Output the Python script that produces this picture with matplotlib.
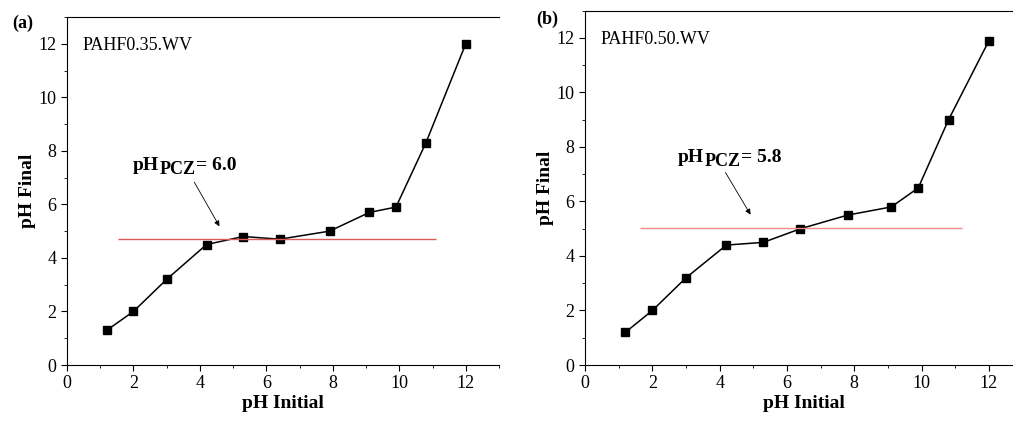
import matplotlib
matplotlib.use('agg')
import matplotlib.pyplot as plt
from matplotlib.ticker import MultipleLocator

plt.rcParams['font.family'] = ['Liberation Serif', 'DejaVu Serif']

# panel (a)
ph_init_a = [1.2, 2.0, 3.0, 4.2, 5.3, 6.4, 7.9, 9.1, 9.9, 10.8, 12.0]
ph_final_a = [1.3, 2.0, 3.2, 4.5, 4.8, 4.7, 5.0, 5.7, 5.9, 8.3, 12.0]
# panel (b)
ph_init_b = [1.2, 2.0, 3.0, 4.2, 5.3, 6.4, 7.8, 9.1, 9.9, 10.8, 12.0]
ph_final_b = [1.2, 2.0, 3.2, 4.4, 4.5, 5.0, 5.5, 5.8, 6.5, 9.0, 11.9]

ref_a = (1.53, 11.1, 4.70)
ref_b = (1.63, 11.2, 5.01)

fig = plt.figure(figsize=(10.13, 4.21), dpi=100)
ax_a = fig.add_axes([0.0661, 0.133, 0.4265, 0.8266])
ax_b = fig.add_axes([0.5775, 0.133, 0.432, 0.8416])


def draw_panel(ax, x, y, ref, line_col, name, pcz, txt_xy, arr_from, arr_to):
    ax.plot(x, y, '-s', color='black', lw=1.1, ms=5.5, mfc='black')
    ax.hlines(ref[2], ref[0], ref[1], color=line_col, lw=1)
    ax.set_xlim(0, 13)
    ax.set_ylim(0, 13)
    ax.xaxis.set_major_locator(MultipleLocator(2))
    ax.xaxis.set_minor_locator(MultipleLocator(1))
    ax.yaxis.set_major_locator(MultipleLocator(2))
    ax.yaxis.set_minor_locator(MultipleLocator(1))
    ax.spines['right'].set_visible(False)
    ax.tick_params(which='both', direction='out', labelsize=13)
    ax.tick_params(which='major', length=4)
    ax.tick_params(which='minor', length=2.5)
    ax.set_xlabel('pH Initial', fontsize=14, fontweight='bold', labelpad=2)
    ax.set_ylabel('pH Final', fontsize=14, fontweight='bold', labelpad=2)
    ax.text(0.035, 0.905, name, transform=ax.transAxes, fontsize=13)
    # pH_PCZ label built from pieces so the subscript stays large
    t1 = ax.text(txt_xy[0], txt_xy[1], 'pH', fontsize=14, fontweight='bold')
    t2 = ax.annotate('PCZ', xy=(1, 0), xycoords=t1, xytext=(0.3, -3),
                     textcoords='offset points', fontsize=13, fontweight='bold',
                     va='bottom', ha='left')
    ax.annotate('= ' + pcz, xy=(1, 0), xycoords=t2, xytext=(0.5, 3),
                textcoords='offset points', fontsize=14, fontweight='bold',
                va='bottom', ha='left')
    ax.annotate('', xy=arr_to, xytext=arr_from,
                arrowprops=dict(arrowstyle='-|>', color='black', lw=0.6,
                                mutation_scale=8))


draw_panel(ax_a, ph_init_a, ph_final_a, ref_a, '#e05a5a', 'PAHF0.35.WV', '6.0',
           (1.98, 7.3), (3.79, 6.92), (4.63, 5.09))
draw_panel(ax_b, ph_init_b, ph_final_b, ref_b, '#f08a8a', 'PAHF0.50.WV', '5.8',
           (2.76, 7.44), (4.13, 7.15), (4.96, 5.43))

fig.text(0.012, 1 - 23 / 421, '(a)', fontsize=13, fontweight='bold', va='center')
fig.text(0.529, 1 - 19 / 421, '(b)', fontsize=13, fontweight='bold', va='center')

fig.savefig('out.png', dpi=100)
